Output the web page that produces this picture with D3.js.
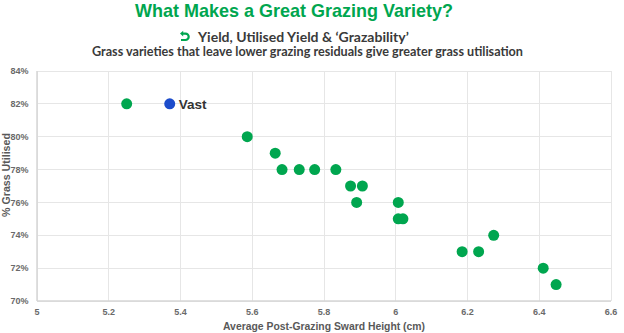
<!DOCTYPE html>
<html>
<head>
<meta charset="utf-8">
<script src="https://cdn.jsdelivr.net/npm/d3@7"></script>
<style>
html,body{margin:0;padding:0;background:#fff;}
svg{display:block;}
</style>
</head>
<body>
<svg id="chart" width="624" height="333"></svg>
<script>
// ---- data ----
const swardHeight = [5.25, 5.37, 5.586, 5.664, 5.683, 5.731, 5.774, 5.833, 5.874, 5.907, 5.891, 6.007, 6.007, 6.02, 6.185, 6.231, 6.273, 6.411, 6.447];
const grassUtilised = [0.82, 0.82, 0.80, 0.79, 0.78, 0.78, 0.78, 0.78, 0.77, 0.77, 0.76, 0.76, 0.75, 0.75, 0.73, 0.73, 0.74, 0.72, 0.71];
const varietyLabels = ["", "Vast", "", "", "", "", "", "", "", "", "", "", "", "", "", "", "", "", ""];
const xTicks = [5, 5.2, 5.4, 5.6, 5.8, 6, 6.2, 6.4, 6.6];
const yTicks = [0.70, 0.72, 0.74, 0.76, 0.78, 0.80, 0.82, 0.84];
const titleText = "What Makes a Great Grazing Variety?";
const subtitleText = "Yield, Utilised Yield & \u2018Grazability\u2019";
const captionText = "Grass varieties that leave lower grazing residuals give greater grass utilisation";
const xTitle = "Average Post-Grazing Sward Height (cm)";
const yTitle = "% Grass Utilised";

const svg = d3.select("#chart");
const x = d3.scaleLinear().domain([5, 6.6]).range([37, 611]);
const y = d3.scaleLinear().domain([0.70, 0.84]).range([301, 71]);

function fit(sel, target) {
  const n = sel.node();
  const fs = parseFloat(sel.attr("font-size"));
  const w = n.getComputedTextLength();
  if (w > 0) sel.attr("font-size", (fs * target / w).toFixed(2));
}

// gridlines
svg.append("g").selectAll("line.v").data(xTicks).join("line")
  .attr("x1", d => x(d)).attr("x2", d => x(d))
  .attr("y1", y(0.84)).attr("y2", y(0.70))
  .attr("stroke", "#e6e6e6").attr("stroke-width", 1).attr("shape-rendering", "crispEdges");
svg.append("g").selectAll("line.h").data(yTicks).join("line")
  .attr("x1", x(5)).attr("x2", x(6.6))
  .attr("y1", d => y(d)).attr("y2", d => y(d))
  .attr("stroke", "#e6e6e6").attr("stroke-width", 1).attr("shape-rendering", "crispEdges");
// axis lines
svg.append("line").attr("x1", x(5)).attr("x2", x(6.6)).attr("y1", y(0.70)).attr("y2", y(0.70))
  .attr("stroke", "#d6d6d6").attr("stroke-width", 1.5);
svg.append("line").attr("x1", x(5)).attr("x2", x(5)).attr("y1", y(0.84)).attr("y2", y(0.70))
  .attr("stroke", "#d6d6d6").attr("stroke-width", 1.5);

// tick labels
svg.append("g").selectAll("text").data(xTicks).join("text")
  .attr("x", d => x(d)).attr("y", 314.5)
  .attr("text-anchor", "middle")
  .attr("font-family", "Liberation Sans, Arial, sans-serif").attr("font-size", 9)
  .attr("font-weight", "bold").attr("fill", "#6a6a6a")
  .text(d => d3.format("")(+d.toFixed(1)));
svg.append("g").selectAll("text").data(yTicks).join("text")
  .attr("x", 28.5).attr("y", d => y(d) + 3.2)
  .attr("text-anchor", "end")
  .attr("font-family", "Liberation Sans, Arial, sans-serif").attr("font-size", 9)
  .attr("font-weight", "bold").attr("fill", "#6a6a6a")
  .text(d => d3.format(".0%")(d));

// axis titles
const xt = svg.append("text").attr("x", 324).attr("y", 329.5).attr("text-anchor", "middle")
  .attr("font-family", "Liberation Sans, Arial, sans-serif").attr("font-size", 11)
  .attr("font-weight", "bold").attr("fill", "#595959").text(xTitle);
fit(xt, 202);
const yt = svg.append("text").attr("transform", "translate(9.5,175) rotate(-90)")
  .attr("text-anchor", "middle")
  .attr("font-family", "Liberation Sans, Arial, sans-serif").attr("font-size", 11)
  .attr("font-weight", "bold").attr("fill", "#595959").text(yTitle);
fit(yt, 84);

// titles
const t1 = svg.append("text").attr("x", 294).attr("y", 16.5).attr("text-anchor", "middle")
  .attr("font-family", "Liberation Sans, Arial, sans-serif").attr("font-size", 17)
  .attr("font-weight", "bold").attr("fill", "#00a64f").text(titleText);
fit(t1, 318);
const t2 = svg.append("text").attr("x", 198).attr("y", 41.5).attr("text-anchor", "start")
  .attr("font-family", "Lato, Open Sans, sans-serif").attr("font-size", 14)
  .attr("font-weight", "bold").attr("fill", "#3a3a3a").text(subtitleText);
fit(t2, 211);
const t3 = svg.append("text").attr("x", 92).attr("y", 55.8).attr("text-anchor", "start")
  .attr("font-family", "Lato, Open Sans, sans-serif").attr("font-size", 13)
  .attr("font-weight", "bold").attr("fill", "#3a3a3a").text(captionText);
fit(t3, 431);

// curved arrow icon
const icon = svg.append("g").attr("transform", "translate(185,36.8)");
icon.append("path").attr("d", "M-2.5,-3.2 L0.5,-3.2 A3.2,3.2 0 0 1 0.5,3.2 L-4,3.2")
  .attr("fill", "none").attr("stroke", "#00a64f").attr("stroke-width", 2.2);
icon.append("path").attr("d", "M-5,-3.2 L-1.8,-6 L-1.8,-0.4 Z").attr("fill", "#00a64f");

// points
const pts = d3.range(swardHeight.length);
svg.append("g").selectAll("circle").data(pts).join("circle")
  .attr("cx", i => x(swardHeight[i])).attr("cy", i => y(grassUtilised[i]))
  .attr("r", 5.5)
  .attr("fill", i => varietyLabels[i] ? "#1c4ccb" : "#00a64f");
svg.append("g").selectAll("text").data(pts.filter(i => varietyLabels[i])).join("text")
  .attr("x", i => x(swardHeight[i]) + 9).attr("y", i => y(grassUtilised[i]) + 5)
  .attr("font-family", "Liberation Sans, Arial, sans-serif").attr("font-size", 13.5)
  .attr("font-weight", "bold").attr("fill", "#333").text(i => varietyLabels[i]);
</script>
</body>
</html>
